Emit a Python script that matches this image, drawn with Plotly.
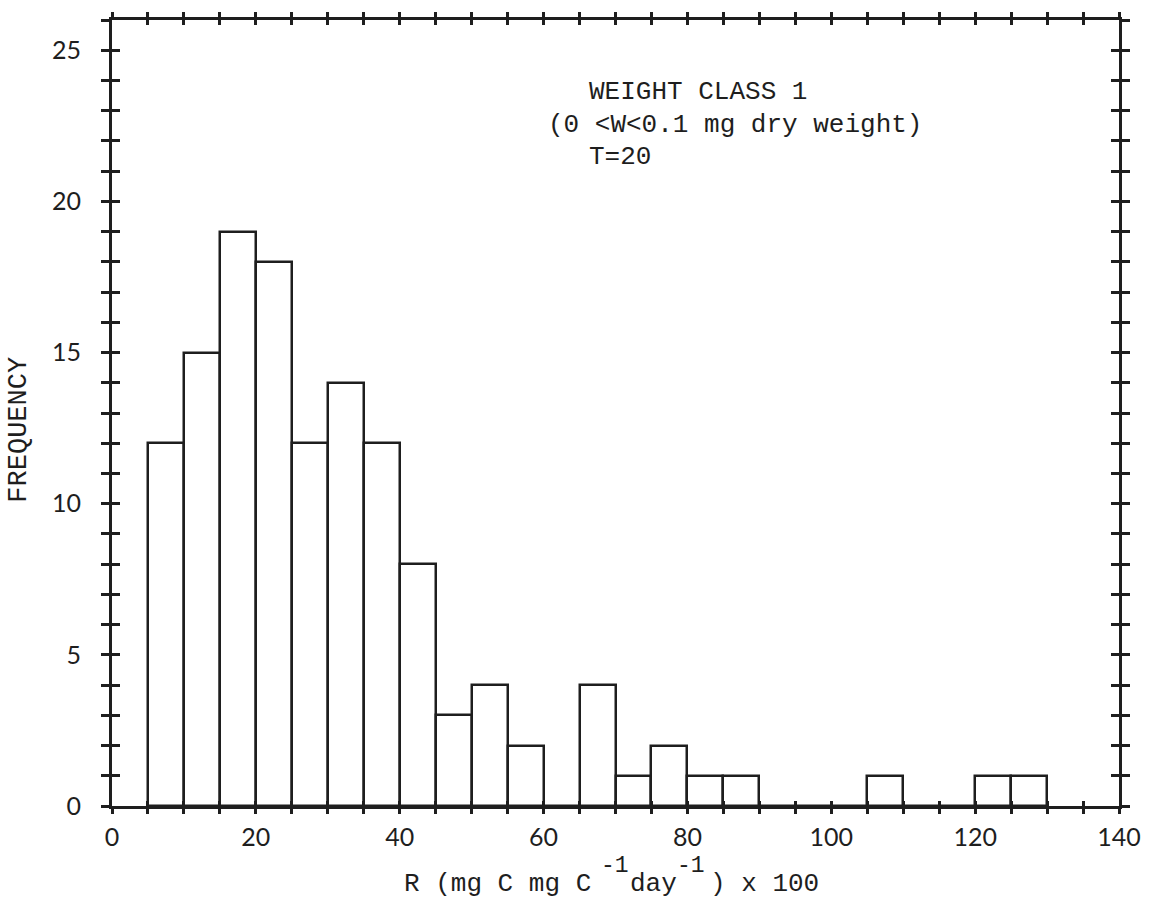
import plotly.graph_objects as go

# Histogram data: left bin edges (width 5) and frequencies
bin_left = [5, 10, 15, 20, 25, 30, 35, 40, 45, 50, 55, 60, 65, 70, 75, 80, 85,
            90, 95, 100, 105, 110, 115, 120, 125]
frequency = [12, 15, 19, 18, 12, 14, 12, 8, 3, 4, 2, 0, 4, 1, 2, 1, 1,
             0, 0, 0, 1, 0, 0, 1, 1]
bin_width = 5

x_ticks = [0, 20, 40, 60, 80, 100, 120, 140]
y_ticks = [0, 5, 10, 15, 20, 25]

annot_lines = ["WEIGHT CLASS 1", "(0 <W<0.1 mg dry weight)", "T=20"]
x_title_parts = ["R (mg C mg C", "day", ") x 100"]
x_title_sup = ["-1", "-1"]
y_title = "FREQUENCY"

INK = "#1e1e1e"
MONO = "Liberation Mono"
SANS = "Lato"

centers = [b + bin_width / 2 for b in bin_left]

fig = go.Figure()
fig.add_trace(go.Bar(
    x=centers, y=frequency, width=bin_width,
    marker=dict(color="white", line=dict(color=INK, width=2.5)),
    showlegend=False, hoverinfo="x+y",
))
# empty trace to instantiate the overlay axes (inside tick marks)
fig.add_trace(go.Scatter(x=[], y=[], xaxis="x2", yaxis="y2", showlegend=False))

common_x = dict(range=[0, 140], showgrid=False, zeroline=False)
common_y = dict(range=[0, 26], showgrid=False, zeroline=False)

fig.update_layout(
    width=1153, height=901,
    margin=dict(l=112, r=27, t=20, b=95),
    paper_bgcolor="white", plot_bgcolor="white",
    bargap=0,
    xaxis=dict(**common_x, tickmode="array", tickvals=x_ticks,
               ticktext=[str(v) for v in x_ticks],
               ticks="outside", ticklen=5, tickwidth=2.5, tickcolor=INK,
               minor=dict(dtick=5, tick0=0, ticks="outside", ticklen=5,
                          tickwidth=2.5, tickcolor=INK),
               showline=True, linewidth=3, linecolor=INK, mirror="allticks",
               tickfont=dict(family=SANS, size=25, color=INK),
               ticklabelstandoff=2),
    yaxis=dict(**common_y, tickmode="array", tickvals=y_ticks,
               ticktext=[str(v) for v in y_ticks],
               ticks="outside", ticklen=8, tickwidth=3, tickcolor=INK,
               minor=dict(dtick=1, tick0=0, ticks="outside", ticklen=8,
                          tickwidth=3, tickcolor=INK),
               showline=True, linewidth=3, linecolor=INK, mirror="allticks",
               tickfont=dict(family=SANS, size=25, color=INK),
               ticklabelstandoff=15),
    xaxis2=dict(**common_x, overlaying="x", anchor="y2", tickmode="array",
                tickvals=x_ticks, showticklabels=False,
                ticks="inside", ticklen=5, tickwidth=2.5, tickcolor=INK,
                minor=dict(dtick=5, tick0=0, ticks="inside", ticklen=5,
                           tickwidth=2.5, tickcolor=INK),
                showline=False, mirror="allticks"),
    yaxis2=dict(**common_y, overlaying="y", anchor="x2", tickmode="array",
                tickvals=y_ticks, showticklabels=False,
                ticks="inside", ticklen=8, tickwidth=3, tickcolor=INK,
                minor=dict(dtick=1, tick0=0, ticks="inside", ticklen=8,
                           tickwidth=3, tickcolor=INK),
                showline=False, mirror="allticks"),
)

# Plot-area pixel helpers (for annotation placement only)
L, R_, T, B = 112, 1126, 20, 806
def px(p):
    return (p - L) / (R_ - L)
def py(q):
    return (B - q) / (B - T)

ann_font = dict(family=MONO, size=26, color=INK)

def note(x, y, text, size=26, **kw):
    fig.add_annotation(x=px(x), y=py(y), xref="paper", yref="paper",
                       text=text, showarrow=False, xanchor="left",
                       yanchor="middle",
                       font=dict(family=MONO, size=size, color=INK), **kw)

note(590, 92, annot_lines[0])
note(549, 125, annot_lines[1])
note(590, 157, annot_lines[2])

# x-axis title with typewriter-style raised exponents
note(404, 884, x_title_parts[0])
note(632, 884, x_title_parts[1])
note(712, 884, x_title_parts[2])
note(602, 866, x_title_sup[0], size=23)
note(679, 866, x_title_sup[1], size=23)

fig.add_annotation(x=px(18), y=py(430), xref="paper", yref="paper",
                   text=y_title, showarrow=False, textangle=-90,
                   xanchor="center", yanchor="middle",
                   font=dict(family=MONO, size=27, color=INK))

fig.write_html("out.html")
